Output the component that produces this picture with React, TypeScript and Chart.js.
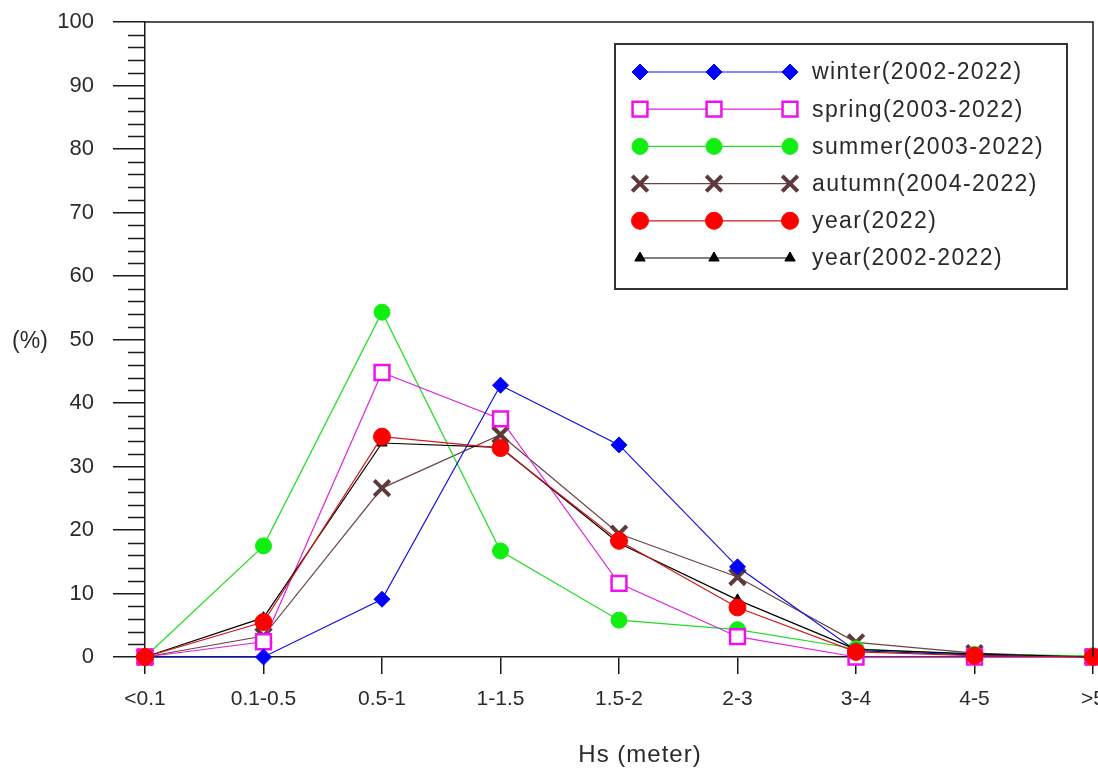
import React, { useEffect, useRef } from 'react';
import { Chart, registerables } from 'chart.js';
import { drawPoint } from 'chart.js/helpers';

Chart.register(...registerables);

const categories = ['<0.1', '0.1-0.5', '0.5-1', '1-1.5', '1.5-2', '2-3', '3-4', '4-5', '>5'];
const winter = [0, 0, 9.1, 42.8, 33.4, 14.2, 1.0, 0.3, 0];
const spring = [0, 2.4, 44.8, 37.5, 11.6, 3.2, 0, 0, 0];
const summer = [0, 17.5, 54.3, 16.7, 5.8, 4.3, 1.3, 0.4, 0.2];
const autumn = [0, 3.3, 26.6, 35.0, 19.4, 12.6, 2.3, 0.6, 0];
const year2022 = [0, 5.5, 34.7, 32.9, 18.3, 7.8, 0.8, 0.2, 0];
const year0222 = [0, 6.2, 33.7, 33.0, 17.9, 9.0, 1.2, 0.5, 0];
const seriesLabels = [
  'winter(2002-2022)',
  'spring(2003-2022)',
  'summer(2003-2022)',
  'autumn(2004-2022)',
  'year(2022)',
  'year(2002-2022)',
];
const yMin = 0;
const yMax = 100;
const yMajorStep = 10;
const yMinorStep = 2;
const yTitle = '(%)';
const xTitle = 'Hs (meter)';

const SANS = '"Liberation Sans", Arial, sans-serif';
const NARROW = '"Liberation Sans Narrow", "Liberation Sans", Arial, sans-serif';
const TEXT = '#2a2a2a';
const AXIS = '#1a1a1a';

const decorPlugin = {
  id: 'decor',
  afterDraw(chart: any) {
    const ctx = chart.ctx as CanvasRenderingContext2D;
    const { left, right, top, bottom } = chart.chartArea;
    const ys = chart.scales.y;
    ctx.save();
    // minor ticks
    ctx.strokeStyle = AXIS;
    ctx.lineWidth = 1.5;
    for (let v = yMin; v <= yMax; v += yMinorStep) {
      if (v % yMajorStep === 0) continue;
      const y = Math.round(ys.getPixelForValue(v)) + 0.5;
      ctx.beginPath();
      ctx.moveTo(left - 17, y);
      ctx.lineTo(left, y);
      ctx.stroke();
    }
    // frame top + right
    ctx.lineWidth = 1.5;
    ctx.beginPath();
    ctx.moveTo(left, top);
    ctx.lineTo(right, top);
    ctx.lineTo(right, bottom);
    ctx.stroke();

    // y title
    ctx.fillStyle = TEXT;
    ctx.font = `23px ${SANS}`;
    ctx.textAlign = 'center';
    ctx.textBaseline = 'middle';
    ctx.fillText(yTitle, 30, ys.getPixelForValue(50) + 2);

    // x title
    ctx.font = `24px ${SANS}`;
    (ctx as any).letterSpacing = '1px';
    ctx.fillText(xTitle, (left + right) / 2 + 21, 755);
    (ctx as any).letterSpacing = '0px';

    // legend
    const bx = 615, by = 44, bw = 452, bh = 245;
    ctx.fillStyle = '#ffffff';
    ctx.fillRect(bx, by, bw, bh);
    ctx.strokeStyle = '#333333';
    ctx.lineWidth = 2;
    ctx.strokeRect(bx, by, bw, bh);
    const rowY0 = 72;
    const rowGap = 37.2;
    const markX = [640, 714, 790];
    chart.data.datasets.forEach((ds: any, i: number) => {
      const y = rowY0 + i * rowGap;
      ctx.strokeStyle = ds.borderColor;
      ctx.lineWidth = ds.borderWidth;
      ctx.beginPath();
      ctx.moveTo(markX[0], y);
      ctx.lineTo(markX[2], y);
      ctx.stroke();
      markX.forEach((mx) => {
        ctx.fillStyle = ds.pointBackgroundColor;
        ctx.strokeStyle = ds.pointBorderColor;
        ctx.lineWidth = ds.pointBorderWidth;
        drawPoint(ctx, {
          pointStyle: ds.pointStyle,
          radius: ds.pointRadius,
          rotation: 0,
          borderWidth: ds.pointBorderWidth,
        } as any, mx, y);
      });
      ctx.fillStyle = TEXT;
      ctx.font = `23px ${SANS}`;
      (ctx as any).letterSpacing = '1.4px';
      ctx.textAlign = 'left';
      ctx.textBaseline = 'middle';
      ctx.fillText(ds.label, 812, y + 1);
      (ctx as any).letterSpacing = '0px';
    });
    ctx.restore();
  },
};

function makeDataset(label: string, data: number[], line: string, fill: string, stroke: string, style: string, radius: number, bw: number, order: number) {
  return {
    label,
    data,
    borderColor: line,
    borderWidth: 1.2,
    pointStyle: style,
    pointRadius: radius,
    pointHoverRadius: radius,
    pointBackgroundColor: fill,
    pointBorderColor: stroke,
    pointBorderWidth: bw,
    tension: 0,
    clip: false as any,
    order,
  };
}

export default function App() {
  const ref = useRef<HTMLCanvasElement | null>(null);
  useEffect(() => {
    if (!ref.current) return;
    const chart = new Chart(ref.current, {
      type: 'line',
      data: {
        labels: categories,
        datasets: [
          makeDataset(seriesLabels[0], winter, '#1010e0', '#0000ff', '#0000ff', 'rectRot', 8, 1, 2),
          makeDataset(seriesLabels[1], spring, '#e020e0', '#ffffff', '#ee11ee', 'rect', 10.5, 2.5, 2),
          makeDataset(seriesLabels[2], summer, '#22dd22', '#11ee11', '#11ee11', 'circle', 8, 1, 2),
          makeDataset(seriesLabels[3], autumn, '#6a4444', '#5e3a3a', '#5e3a3a', 'crossRot', 11, 4, 2),
          makeDataset(seriesLabels[4], year2022, '#d01818', '#ff0000', '#ff0000', 'circle', 8.5, 1, 0),
          makeDataset(seriesLabels[5], year0222, '#000000', '#000000', '#000000', 'triangle', 6, 1, 1),
        ] as any,
      },
      options: {
        animation: false,
        responsive: true,
        maintainAspectRatio: false,
        layout: { autoPadding: false, padding: { top: 22, right: 5, left: 0, bottom: 0 } },
        plugins: {
          legend: { display: false },
          tooltip: { enabled: false },
          title: { display: false },
        },
        scales: {
          x: {
            type: 'category',
            offset: false,
            grid: {
              display: true,
              drawOnChartArea: false,
              drawTicks: true,
              tickLength: 17,
              color: AXIS,
              lineWidth: 1.5,
            },
            border: { display: true, color: AXIS, width: 1.5 },
            ticks: {
              color: TEXT,
              font: { family: NARROW, size: 21 },
              padding: 13,
              maxRotation: 0,
              autoSkip: false,
            },
            afterFit: (axis: any) => {
              axis.height = 113;
              axis.paddingLeft = 0;
              axis.paddingRight = 0;
            },
          },
          y: {
            min: yMin,
            max: yMax,
            grid: {
              display: true,
              drawOnChartArea: false,
              drawTicks: true,
              tickLength: 32,
              color: AXIS,
              lineWidth: 1.5,
            },
            border: { display: true, color: AXIS, width: 1.5 },
            ticks: {
              stepSize: yMajorStep,
              color: TEXT,
              font: { family: SANS, size: 22 },
              padding: 19,
            },
            afterFit: (axis: any) => {
              axis.width = 145;
              axis.paddingTop = 0;
              axis.paddingBottom = 0;
            },
          },
        },
      },
      plugins: [decorPlugin],
    });
    return () => chart.destroy();
  }, []);
  return (
    <div style={{ position: 'fixed', left: 0, top: 0, width: 1098, height: 770, background: '#fff' }}>
      <canvas ref={ref} />
    </div>
  );
}
